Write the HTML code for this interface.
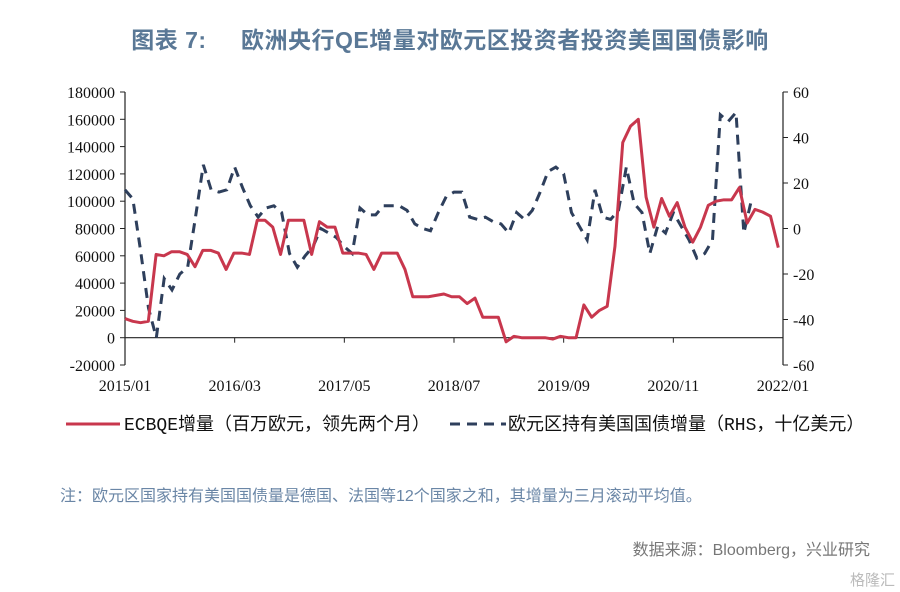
<!DOCTYPE html>
<html><head><meta charset="utf-8"><style>
body{margin:0;background:#fff;width:900px;height:592px;overflow:hidden;}
svg{display:block}
</style></head><body>
<svg id="chart" width="900" height="592" xmlns="http://www.w3.org/2000/svg">
<text x="450" y="48" text-anchor="middle" font-family="'Liberation Sans','Noto Sans CJK SC',sans-serif" font-size="23" font-weight="bold" letter-spacing="0.5" fill="#5a7896">图表 7:&#160;&#160;&#160;&#160;&#160;欧洲央行QE增量对欧元区投资者投资美国国债影响</text>
<g id="axes"></g>
<g id="marks"></g>
<g font-family="'Liberation Mono','Noto Sans CJK SC',monospace" font-size="18" fill="#111">
<line x1="66" y1="424" x2="120" y2="424" stroke="#c8374d" stroke-width="3"/>
<text x="124" y="430">ECBQE增量（百万欧元，领先两个月）</text>
<line x1="450" y1="424" x2="506" y2="424" stroke="#2e3f5c" stroke-width="3" stroke-dasharray="10,7"/>
<text x="508" y="430">欧元区持有美国国债增量（RHS，十亿美元）</text>
</g>
<text x="60" y="501" font-family="'Liberation Sans','Noto Sans CJK SC',sans-serif" font-size="16" fill="#6a86a6">注：欧元区国家持有美国国债量是德国、法国等12个国家之和，其增量为三月滚动平均值。</text>
<text x="870" y="555" text-anchor="end" font-family="'Liberation Sans','Noto Sans CJK SC',sans-serif" font-size="16" fill="#777">数据来源：Bloomberg，兴业研究</text>
<text x="895" y="585" text-anchor="end" font-family="'Liberation Sans','Noto Sans CJK SC',sans-serif" font-size="15" fill="#bbb">格隆汇</text>
</svg>
<script>
const ecb = [14,12,11,12,61,60,63,63,61,52,64,64,62,50,62,62,61,86,86,81,61,86,86,86,61,85,81,81,62,62,62,61,50,62,62,62,50,30,30,30,31,32,30,30,25,29,15,15,15,-3,1,0,0,0,0,-1,1,0,0,24,15,20,23,67,143,155,160,103,81,102,89,99,81,70,81,97,100,101,101,110,84,94,92,89,66];
const holdings = [17,13,-10,-35,-48,-22,-27,-20,-17,5,28,17,16,17,27,18,10,5,9,10,7,-11,-17,-12,-8,0,-2,-4,-8,-11,9,6,6,10,10,10,8,2,0,-1,7,14,16,16,5,4,5,3,2,-2,7,4,8,16,25,27,24,7,1,-5,17,5,4,8,27,11,7,-11,1,-2,7,1,-5,-13,-11,-5,50,47,51,-2,13];
const leftTicks = [-20000,0,20000,40000,60000,80000,100000,120000,140000,160000,180000];
const rightTicks = [-60,-40,-20,0,20,40,60];
const xLabels = ["2015/01","2016/03","2017/05","2018/07","2019/09","2020/11","2022/01"];
const xLabelMonths = [0,14,28,42,56,70,84];

const NS="http://www.w3.org/2000/svg";
const X0=125,X1=783,Y0=365,Y1=92;
const xs=m=>X0+m*(X1-X0)/84;
const yl=v=>Y0-(v+20000)*(Y0-Y1)/200000;
const yr=v=>Y0-(v+60)*(Y0-Y1)/120;
function mk(tag,attrs,parent){const e=document.createElementNS(NS,tag);for(const k in attrs)e.setAttribute(k,attrs[k]);parent.appendChild(e);return e;}
const axes=document.getElementById('axes'),marks=document.getElementById('marks');
const tf="'Liberation Serif',serif";
let e;
e=mk('line',{x1:X0,y1:Y1,x2:X0,y2:Y0,stroke:'#222','stroke-width':1.2},axes);


e=mk('line',{x1:X1,y1:Y1,x2:X1,y2:Y0,stroke:'#222','stroke-width':1.2},axes);


e=mk('line',{x1:X0,y1:yl(0),x2:X1,y2:yl(0),stroke:'#222','stroke-width':1.2},axes);


leftTicks.forEach(v=>{
  mk('line',{x1:X0-5,y1:yl(v),x2:X0,y2:yl(v),stroke:'#222'},axes);
  e=mk('text',{x:X0-10,y:yl(v)+6,'text-anchor':'end','font-family':tf,'font-size':16,fill:'#111'},axes);
  e.textContent=v;
  
  
});
rightTicks.forEach(v=>{
  mk('line',{x1:X1,y1:yr(v),x2:X1+5,y2:yr(v),stroke:'#222'},axes);
  e=mk('text',{x:X1+10,y:yr(v)+6,'font-family':tf,'font-size':16,fill:'#111'},axes);
  e.textContent=v;
  
  
});
xLabels.forEach((l,i)=>{
  const x=xs(xLabelMonths[i]);
  mk('line',{x1:x,y1:yl(0),x2:x,y2:yl(0)+5,stroke:'#222'},axes);
  e=mk('text',{x:x,y:391,'text-anchor':'middle','font-family':tf,'font-size':16,fill:'#111'},axes);
  e.textContent=l;
  
  
});
e=mk('polyline',{points:holdings.map((v,i)=>xs(i)+','+yr(v)).join(' '),fill:'none',stroke:'#2e3f5c','stroke-width':3,'stroke-dasharray':'10,7'},marks);


e=mk('polyline',{points:ecb.map((v,i)=>xs(i*83.4/84)+','+yl(v*1000)).join(' '),fill:'none',stroke:'#c8374d','stroke-width':3,'stroke-linejoin':'round'},marks);


</script>
</body></html>
